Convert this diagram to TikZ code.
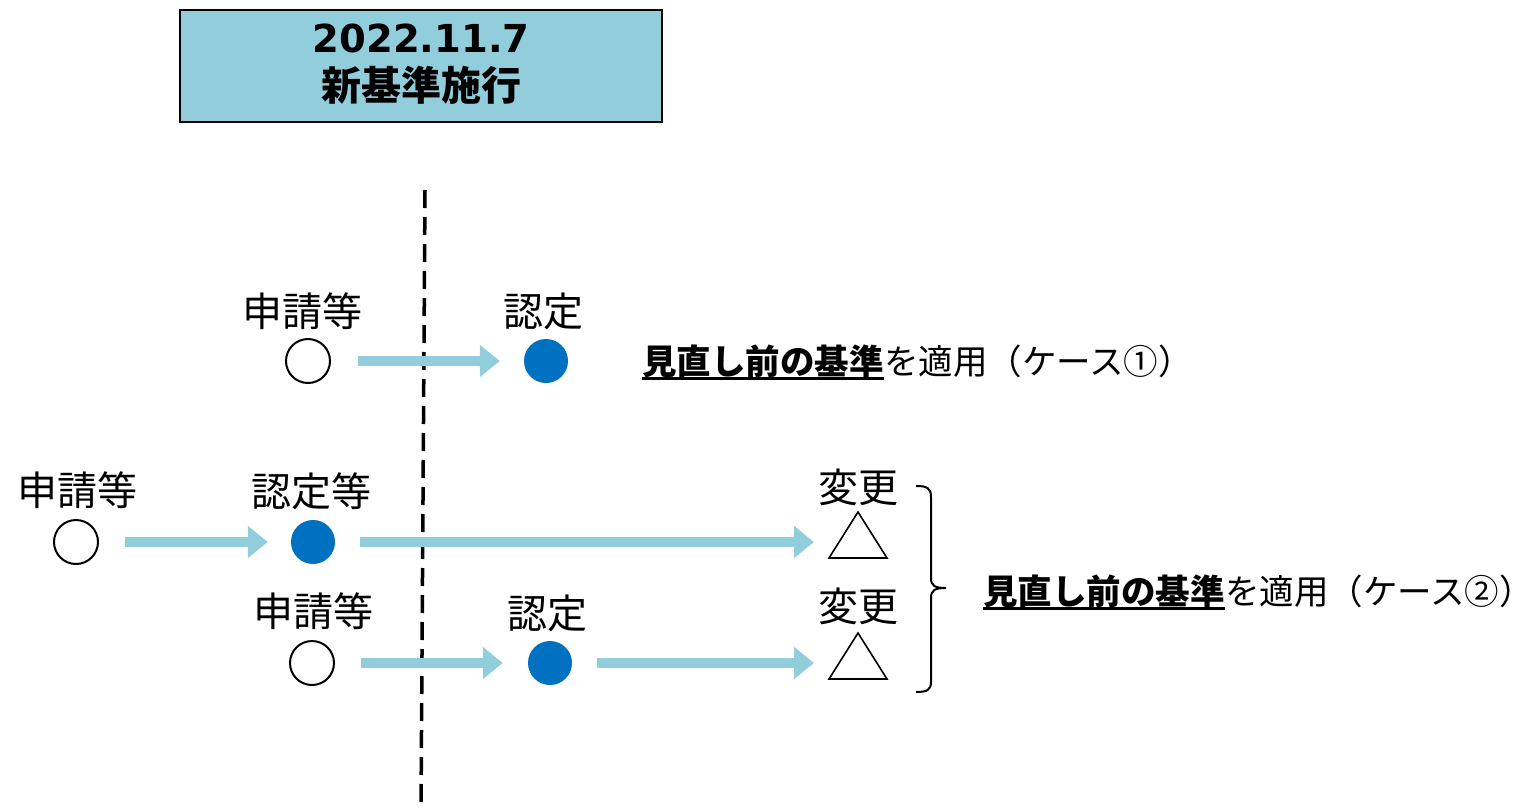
\documentclass[tikz,border=0pt]{standalone}
\usepackage{fontspec}
\setmainfont{Noto Sans CJK JP}
\newfontfamily\dvb{DejaVu Sans}
\usetikzlibrary{arrows.meta,calc}
\definecolor{lblue}{HTML}{92CDDC}
\definecolor{dblue}{HTML}{0070C0}
\begin{document}
\begin{tikzpicture}[x=1pt,y=-1pt,
  lab/.style={inner sep=0pt, font=\fontsize{40}{46}\selectfont},
  casetxt/.style={inner sep=0pt, anchor=base west, font=\fontsize{34.5}{41}\selectfont},
  opencirc/.style={circle, draw=black, line width=2pt, minimum size=44pt, inner sep=0pt},
  fillcirc/.style={circle, fill=dblue, minimum size=44pt, inner sep=0pt},
  flow/.style={draw=lblue, line width=10pt, -{Triangle[length=20pt,width=31pt]}},
  tri/.style={draw=black, line width=1.6pt, line join=miter},
  brace/.style={draw=black, line width=2pt},
  titlebox/.style={draw=black, line width=2pt, fill=lblue, minimum width=482pt, minimum height=112pt, inner sep=0pt},
  divider/.style={draw=black, line width=3.5pt, dash pattern=on 18pt off 9pt}
]
\useasboundingbox (0,0) rectangle (1537,809);

% title
\node[titlebox] (title) at (421,66) {};
\node[inner sep=0pt, font=\dvb\bfseries\fontsize{38.5}{44}\selectfont] (date) at (421,38) {2022.11.7};
\node[inner sep=0pt, font=\bfseries\fontsize{40}{46}\selectfont] (shiko) at (421,85) {新基準施行};

% divider
\coordinate (dtop) at (425,190);
\coordinate (dbot) at (421,809);
\draw[divider] (dtop) -- (dbot);

% row 1
\node[lab] (l1a) at (302,311) {申請等};
\node[opencirc] (o1) at (308,361) {};
\node[lab] (l1b) at (543,311) {認定};
\node[fillcirc] (f1) at (546,361) {};
\draw[flow] ([xshift=27pt]o1.east) -- ([xshift=-24pt]f1.west);

\node[casetxt] (c1b) at (642,374) {\bfseries 見直し前の基準};
\node[casetxt] (c1r) at (c1b.base east) {を適用（ケース①）};
\draw[line width=2.5pt] ([yshift=-4.5pt]c1b.base west) -- ([yshift=-4.5pt]c1b.base east);

% row 2
\node[lab] (l2a) at (77,490) {申請等};
\node[opencirc] (o2) at (76,542) {};
\node[lab] (l2b) at (311,491) {認定等};
\node[fillcirc] (f2) at (313,542) {};
\node[lab] (l2c) at (858,487) {変更};
\coordinate (t1) at (858,535);
\draw[tri] ($(t1)+(-29,23)$) -- ($(t1)+(29,23)$) -- ($(t1)+(0,-23)$) -- cycle;
\draw[flow] ([xshift=26pt]o2.east) -- ([xshift=-23pt]f2.west);
\draw[flow] ([xshift=25pt]f2.east) -- ($(t1 |- f2)+(-44,0)$);

% row 3
\node[lab] (l3a) at (313,611) {申請等};
\node[opencirc] (o3) at (312,663) {};
\node[lab] (l3b) at (547,613) {認定};
\node[fillcirc] (f3) at (550,663) {};
\node[lab] (l3c) at (858,606) {変更};
\coordinate (t2) at (858,656);
\draw[tri] ($(t2)+(-29,23)$) -- ($(t2)+(29,23)$) -- ($(t2)+(0,-23)$) -- cycle;
\draw[flow] ([xshift=26pt]o3.east) -- ([xshift=-25pt]f3.west);
\draw[flow] ([xshift=25pt]f3.east) -- ($(t2 |- f3)+(-44,0)$);

% brace
\coordinate (btip) at (946,588);
\draw[brace] (916,486) .. controls (927,486) and (931,488) .. (931,497) -- (931,578)
  .. controls (931,586) and (935,588) .. (btip)
  .. controls (935,588) and (931,590) .. (931,598) -- (931,682)
  .. controls (931,690) and (927,692) .. (916,692);

\node[casetxt] (c2b) at (983,604) {\bfseries 見直し前の基準};
\node[casetxt] (c2r) at (c2b.base east) {を適用（ケース②）};
\draw[line width=2.5pt] ([yshift=-4.5pt]c2b.base west) -- ([yshift=-4.5pt]c2b.base east);
\end{tikzpicture}
\end{document}
